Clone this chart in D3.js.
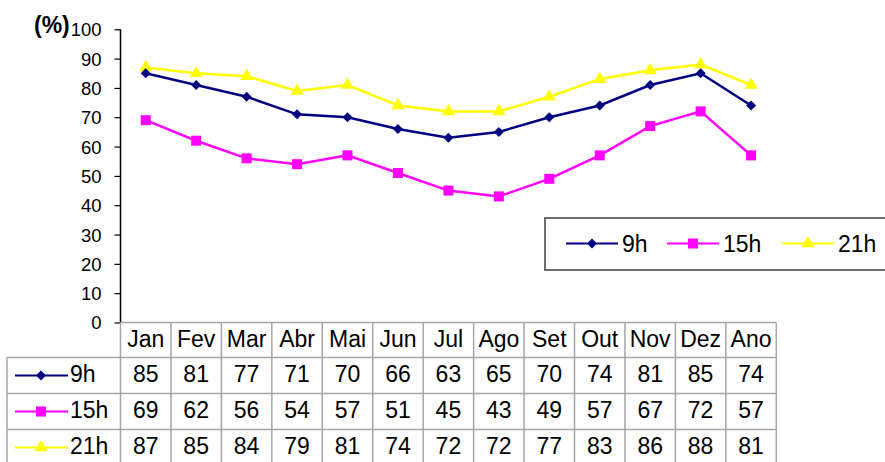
<!DOCTYPE html>
<html>
<head>
<meta charset="utf-8">
<script src="https://cdnjs.cloudflare.com/ajax/libs/d3/7.8.5/d3.min.js"></script>
<style>
  html, body { margin: 0; padding: 0; background: #fff; }
  svg { display: block; font-family: "Liberation Sans", Arial, sans-serif; }
</style>
</head>
<body>
<svg id="chart" width="885" height="462"></svg>
<script>
const months = ["Jan", "Fev", "Mar", "Abr", "Mai", "Jun", "Jul", "Ago", "Set", "Out", "Nov", "Dez", "Ano"]
const h9 = [85, 81, 77, 71, 70, 66, 63, 65, 70, 74, 81, 85, 74]
const h15 = [69, 62, 56, 54, 57, 51, 45, 43, 49, 57, 67, 72, 57]
const h21 = [87, 85, 84, 79, 81, 74, 72, 72, 77, 83, 86, 88, 81]
const yTicks = [0, 10, 20, 30, 40, 50, 60, 70, 80, 90, 100]

const series = [
  { name: "9h", values: h9, color: "#000080", symbol: d3.symbolDiamond2, size: 64 },
  { name: "15h", values: h15, color: "#FF00FF", symbol: d3.symbolSquare, size: 100 },
  { name: "21h", values: h21, color: "#FFFF00", symbol: d3.symbolTriangle, size: 75 }
]

const svg = d3.select("#chart")
const plotL = 120.5, plotR = 776.3, plotT = 29.3, plotB = 322.5
const headH = 35, rowH = 36, tableL = 7
const fs = "23px"

const x = d3.scaleBand().domain(months).range([plotL, plotR])
const y = d3.scaleLinear().domain([0, 100]).range([plotB, plotT])
const cx = m => x(m) + x.bandwidth() / 2

// y axis
const yAxis = svg.append("g").attr("transform", `translate(${plotL},0)`)
  .call(d3.axisLeft(y).tickValues(yTicks).tickSize(6).tickPadding(13))
yAxis.select(".domain").attr("stroke", "#000").attr("stroke-width", 1.5)
  .attr("d", `M0,${plotT}V${plotB}`)
yAxis.selectAll(".tick line").attr("stroke", "#000").attr("stroke-width", 1.2)
yAxis.selectAll(".tick text").attr("font-size", "18.5px").attr("fill", "#000")
  .attr("font-family", "Liberation Sans, Arial, sans-serif").attr("dy", "0.35em")

svg.append("text").attr("x", 34).attr("y", 33)
  .attr("font-size", "23px").attr("font-weight", "bold").text("(%)")

// data table grid
const rowTop = i => plotB + headH + rowH * i
const grid = svg.append("g").attr("stroke", "#a6a6a6").attr("stroke-width", 1.5).attr("fill", "none")
grid.append("line").attr("x1", plotL).attr("x2", plotR).attr("y1", plotB).attr("y2", plotB)
for (let i = 0; i <= 3; i++) {
  grid.append("line").attr("x1", tableL).attr("x2", plotR).attr("y1", rowTop(i)).attr("y2", rowTop(i))
}
grid.append("line").attr("x1", tableL).attr("x2", tableL)
  .attr("y1", rowTop(0)).attr("y2", rowTop(3))
months.forEach(m => {
  grid.append("line").attr("x1", x(m) + x.bandwidth()).attr("x2", x(m) + x.bandwidth())
    .attr("y1", plotB).attr("y2", rowTop(3))
})
grid.append("line").attr("x1", plotL).attr("x2", plotL)
  .attr("y1", plotB).attr("y2", rowTop(3))

// header labels
svg.append("g").selectAll("text").data(months).join("text")
  .attr("x", cx).attr("y", plotB + headH / 2 + 6.5)
  .attr("text-anchor", "middle").attr("font-size", fs).text(d => d)

// table rows
series.forEach((s, i) => {
  const cy = rowTop(i) + rowH / 2
  const g = svg.append("g")
  g.append("line").attr("x1", 15).attr("x2", 68).attr("y1", cy).attr("y2", cy)
    .attr("stroke", s.color).attr("stroke-width", 2)
  g.append("path").attr("d", d3.symbol(s.symbol, s.size)())
    .attr("transform", `translate(41,${cy})`).attr("fill", s.color)
  g.append("text").attr("x", 70).attr("y", cy + 6.5)
    .attr("font-size", fs).text(s.name)
  g.selectAll("text.v").data(s.values).join("text").attr("class", "v")
    .attr("x", (d, j) => cx(months[j])).attr("y", cy + 6.5)
    .attr("text-anchor", "middle").attr("font-size", fs).text(d => d)
})

// lines
const line = d3.line().x((d, j) => cx(months[j])).y(d => y(d))
series.slice().reverse().forEach(s => {
  svg.append("path").datum(s.values).attr("d", line)
    .attr("fill", "none").attr("stroke", s.color).attr("stroke-width", 2.5)
  svg.append("g").selectAll("path").data(s.values).join("path")
    .attr("d", d3.symbol(s.symbol, s.size))
    .attr("transform", (d, j) => `translate(${cx(months[j])},${y(d)})`)
    .attr("fill", s.color)
})

// legend
const lg = svg.append("g")
lg.append("rect").attr("x", 545).attr("y", 218).attr("width", 345).attr("height", 52)
  .attr("fill", "#fff").attr("stroke", "#404040").attr("stroke-width", 1.5)
const lx = [566, 667, 782]
series.forEach((s, i) => {
  const ly = 243.5
  lg.append("line").attr("x1", lx[i]).attr("x2", lx[i] + 52).attr("y1", ly).attr("y2", ly)
    .attr("stroke", s.color).attr("stroke-width", 2)
  lg.append("path").attr("d", d3.symbol(s.symbol, s.size)())
    .attr("transform", `translate(${lx[i] + 26},${ly})`).attr("fill", s.color)
  lg.append("text").attr("x", lx[i] + 56).attr("y", ly + 8)
    .attr("font-size", fs).text(s.name)
})
</script>
</body>
</html>
